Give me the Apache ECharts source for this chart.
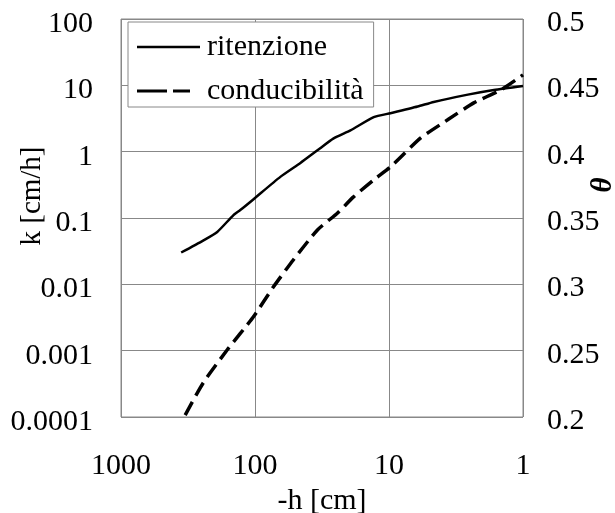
<!DOCTYPE html>
<html>
<head>
<meta charset="utf-8">
<script src="https://cdn.jsdelivr.net/npm/echarts@6/dist/echarts.min.js"></script>
<style>
  html, body { margin: 0; padding: 0; background: #fff; }
  #chart { width: 615px; height: 513px; }
</style>
</head>
<body>
<div id="chart"></div>
<script>
// ritenzione: theta vs -h (right axis)
var hRit = [355.6, 243.8, 191.4, 145.3, 128.8, 103, 64.7, 45.8, 34.2, 25.9, 19.4, 13.0, 9.73, 6.11, 4.64, 2.58, 1.65, 1];
var thetaRit = [0.324, 0.333, 0.3395, 0.352, 0.356, 0.364, 0.381, 0.3915, 0.401, 0.410, 0.416, 0.426, 0.429, 0.434, 0.4375, 0.443, 0.4465, 0.4495];

// conducibilita: k vs -h (left log axis)
var hCond = [332, 243.8, 161, 103, 73, 51.8, 34.2, 24.2, 18.4, 13.0, 9.73, 5.8, 3.65, 2.33, 1.46, 1];
var kCond = [1.07e-4, 3.26e-4, 1.03e-3, 3.22e-3, 9.1e-3, 0.0233, 0.066, 0.119, 0.208, 0.376, 0.59, 1.61, 3.02, 5.44, 8.55, 14.4];

var xTicks = ['1', '10', '100', '1000'];
var kTicks = ['0.0001', '0.001', '0.01', '0.1', '1', '10', '100'];
var thetaTicks = ['0.2', '0.25', '0.3', '0.35', '0.4', '0.45', '0.5'];

var FONT = '"Liberation Serif", "DejaVu Serif", serif';
var labelStyle = { fontFamily: FONT, fontSize: 30, color: '#000' };

function pairs(xs, ys) {
  return xs.map(function (x, i) { return [x, ys[i]]; });
}

var chart = echarts.init(document.getElementById('chart'));
chart.setOption({
  animation: false,
  backgroundColor: '#fff',
  grid: {
    left: 121, right: 92, top: 19, bottom: 96,
    outerBoundsMode: 'none',
    show: true, borderColor: '#888', borderWidth: 1
  },
  legend: {
    orient: 'vertical',
    left: 128, top: 22,
    padding: [10, 10, 1, 9],
    itemGap: 14,
    itemWidth: 63, itemHeight: 20,
    borderColor: '#888', borderWidth: 1, backgroundColor: '#fff',
    textStyle: { fontFamily: FONT, fontSize: 30, color: '#000', padding: [0, 0, 0, 2] },
    data: [
      { name: 'ritenzione', icon: 'path://M0,8.75 L63,8.75 L63,11.25 L0,11.25 Z', itemStyle: { color: '#000' } },
      { name: 'conducibilità', icon: 'path://M0,8.5 L30,8.5 L30,11.5 L0,11.5 Z M36,8.5 L53,8.5 L53,11.5 L36,11.5 Z M63,10 L63,10 Z', itemStyle: { color: '#000' } }
    ]
  },
  xAxis: {
    type: 'log', logBase: 10, min: 1, max: 1000, inverse: true,
    name: '-h [cm]', nameLocation: 'middle', nameGap: 68,
    nameTextStyle: labelStyle,
    axisLine: { show: false },
    axisTick: { show: false },
    axisLabel: Object.assign({ margin: 34, formatter: function (v) {
      return xTicks[Math.round(Math.log10(v))];
    } }, labelStyle),
    splitLine: { show: true, lineStyle: { color: '#888', width: 1 } }
  },
  yAxis: [
    {
      type: 'log', logBase: 10, min: 0.0001, max: 100,
      axisLine: { show: false },
      axisTick: { show: false },
      axisLabel: Object.assign({ margin: 28, verticalAlign: 'top', lineHeight: 10, formatter: function (v) {
        return kTicks[Math.round(Math.log10(v)) + 4];
      } }, labelStyle),
      splitLine: { show: true, lineStyle: { color: '#888', width: 1 } }
    },
    {
      type: 'value', min: 0.2, max: 0.5, interval: 0.05, position: 'right',
      axisLine: { show: false },
      axisTick: { show: false },
      axisLabel: Object.assign({ margin: 24, verticalAlign: 'top', lineHeight: 8, formatter: function (v) {
        return thetaTicks[Math.round((v - 0.2) / 0.05)];
      } }, labelStyle),
      splitLine: { show: false }
    }
  ],
  graphic: [
    { type: 'text', x: 32, y: 196, rotation: Math.PI / 2,
      style: { text: 'k [cm/h]', font: '29px ' + FONT, fill: '#000', align: 'center', verticalAlign: 'middle' } },
    { type: 'text', x: 604, y: 185, rotation: Math.PI / 2,
      style: { text: 'θ', font: 'italic bold 29px ' + FONT, fill: '#000', align: 'center', verticalAlign: 'middle' } }
  ],
  series: [
    {
      name: 'ritenzione', type: 'line', yAxisIndex: 1,
      data: pairs(hRit, thetaRit),
      symbol: 'none', smooth: 0.2,
      lineStyle: { color: '#000', width: 2.5 }
    },
    {
      name: 'conducibilità', type: 'line', yAxisIndex: 0,
      data: pairs(hCond, kCond),
      symbol: 'none', smooth: 0.2,
      lineStyle: { color: '#000', width: 3.5, type: [15, 7] }
    }
  ]
});
</script>
</body>
</html>
